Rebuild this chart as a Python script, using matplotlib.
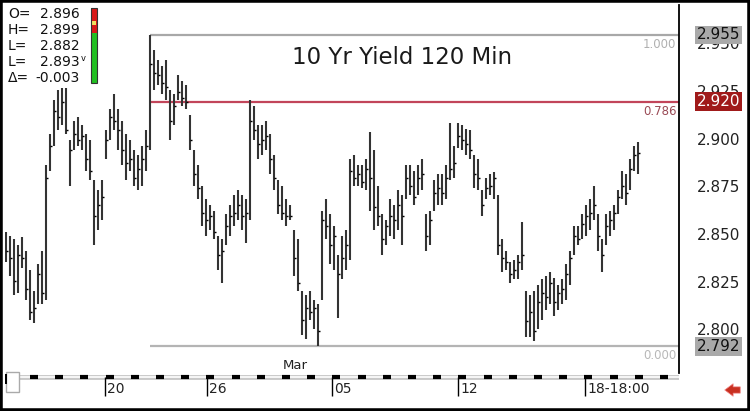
import matplotlib.pyplot as plt
from matplotlib.patches import Rectangle
import numpy as np

# 120-minute bars, 10 year yield
highs = [
    2.852, 2.850, 2.848, 2.845, 2.849, 2.842, 2.832, 2.821, 2.835, 2.842,
    2.887, 2.903, 2.921, 2.926, 2.927, 2.927, 2.900, 2.910, 2.912, 2.908,
    2.903, 2.900, 2.879, 2.874, 2.879, 2.905, 2.916, 2.924, 2.916, 2.910,
    2.903, 2.900, 2.895, 2.892, 2.897, 2.905, 2.955, 2.947, 2.942, 2.939,
    2.942, 2.926, 2.924, 2.934, 2.931, 2.929, 2.913, 2.895, 2.887, 2.876,
    2.869, 2.866, 2.863, 2.850, 2.848, 2.861, 2.866, 2.871, 2.874, 2.871,
    2.869, 2.921, 2.918, 2.908, 2.908, 2.910, 2.903, 2.892, 2.879, 2.876,
    2.869, 2.866, 2.853, 2.848, 2.821, 2.819, 2.821, 2.816, 2.814, 2.863,
    2.869, 2.861, 2.855, 2.840, 2.850, 2.853, 2.890, 2.892, 2.887, 2.887,
    2.890, 2.904, 2.895, 2.876, 2.861, 2.858, 2.869, 2.866, 2.874, 2.871,
    2.887, 2.887, 2.884, 2.887, 2.890, 2.861, 2.863, 2.879, 2.882, 2.882,
    2.887, 2.909, 2.897, 2.909, 2.908, 2.906, 2.905, 2.892, 2.890, 2.874,
    2.880, 2.882, 2.883, 2.871, 2.848, 2.842, 2.836, 2.837, 2.840, 2.857,
    2.821, 2.819, 2.821, 2.824, 2.827, 2.829, 2.831, 2.828, 2.824, 2.827,
    2.835, 2.842, 2.855, 2.855, 2.861, 2.866, 2.869, 2.876, 2.861, 2.848,
    2.861, 2.863, 2.866, 2.874, 2.884, 2.882, 2.890, 2.897, 2.899,
]
lows = [
    2.836, 2.829, 2.819, 2.820, 2.833, 2.816, 2.806, 2.804, 2.814, 2.814,
    2.816, 2.884, 2.897, 2.905, 2.908, 2.903, 2.876, 2.895, 2.897, 2.895,
    2.884, 2.879, 2.845, 2.853, 2.858, 2.890, 2.900, 2.905, 2.895, 2.887,
    2.879, 2.884, 2.876, 2.874, 2.876, 2.884, 2.895, 2.926, 2.929, 2.924,
    2.921, 2.900, 2.908, 2.921, 2.918, 2.916, 2.895, 2.876, 2.869, 2.855,
    2.850, 2.853, 2.848, 2.832, 2.825, 2.845, 2.850, 2.855, 2.858, 2.853,
    2.846, 2.858, 2.900, 2.890, 2.892, 2.895, 2.882, 2.874, 2.861, 2.858,
    2.855, 2.858, 2.829, 2.821, 2.798, 2.796, 2.806, 2.801, 2.792, 2.816,
    2.848, 2.835, 2.832, 2.807, 2.827, 2.832, 2.837, 2.876, 2.876, 2.875,
    2.874, 2.863, 2.853, 2.855, 2.840, 2.845, 2.850, 2.848, 2.853, 2.845,
    2.869, 2.871, 2.866, 2.871, 2.874, 2.842, 2.845, 2.863, 2.866, 2.866,
    2.869, 2.879, 2.880, 2.896, 2.895, 2.892, 2.890, 2.875, 2.874, 2.860,
    2.869, 2.871, 2.869, 2.840, 2.831, 2.832, 2.825, 2.827, 2.827, 2.832,
    2.797, 2.797, 2.795, 2.801, 2.806, 2.811, 2.814, 2.808, 2.811, 2.814,
    2.816, 2.824, 2.840, 2.845, 2.848, 2.850, 2.853, 2.858, 2.842, 2.831,
    2.845, 2.850, 2.853, 2.861, 2.869, 2.866, 2.874, 2.884, 2.882,
]
closes = [
    2.842, 2.838, 2.826, 2.840, 2.838, 2.822, 2.810, 2.812, 2.830, 2.820,
    2.880, 2.897, 2.915, 2.912, 2.920, 2.905, 2.895, 2.903, 2.900, 2.902,
    2.890, 2.884, 2.860, 2.866, 2.870, 2.900, 2.912, 2.910, 2.905, 2.895,
    2.888, 2.890, 2.880, 2.885, 2.890, 2.897, 2.940, 2.935, 2.934, 2.930,
    2.928, 2.910, 2.918, 2.925, 2.922, 2.920, 2.900, 2.882, 2.875, 2.862,
    2.858, 2.860, 2.852, 2.840, 2.842, 2.855, 2.860, 2.862, 2.866, 2.860,
    2.862, 2.910, 2.905, 2.898, 2.900, 2.902, 2.890, 2.880, 2.866, 2.862,
    2.860, 2.860, 2.838, 2.825, 2.806, 2.812, 2.810, 2.812, 2.800, 2.858,
    2.855, 2.845, 2.850, 2.830, 2.838, 2.845, 2.884, 2.880, 2.882, 2.878,
    2.885, 2.880, 2.865, 2.860, 2.848, 2.855, 2.860, 2.858, 2.866, 2.860,
    2.880, 2.876, 2.870, 2.880, 2.882, 2.850, 2.858, 2.872, 2.875, 2.872,
    2.880, 2.885, 2.888, 2.902, 2.900, 2.898, 2.895, 2.882, 2.880, 2.866,
    2.875, 2.876, 2.880, 2.845, 2.838, 2.836, 2.830, 2.832, 2.836, 2.840,
    2.805, 2.810, 2.800, 2.815, 2.820, 2.818, 2.825, 2.815, 2.820, 2.822,
    2.830, 2.838, 2.850, 2.848, 2.856, 2.860, 2.862, 2.866, 2.850, 2.840,
    2.855, 2.858, 2.862, 2.870, 2.876, 2.872, 2.885, 2.892, 2.893,
]

price_ticks = [2.800, 2.825, 2.850, 2.875, 2.900, 2.925, 2.950]
date_pos = [24.75, 50.25, 81.5, 113.0, 144.75]
date_labels = ["20", "26", "05", "12", "18-18:00"]
month_pos = 72.25
month_label = "Mar"

fib_start = 36
fib_levels = [2.955, 2.920, 2.792]
fib_names = ["1.000", "0.786", "0.000"]
fib_colors = ["#a8a8a8", "#c2455a", "#b4b4b4"]
fib_text_colors = ["#b0b0b0", "#9a4a55", "#b8b8b8"]

info_labels = ["O=", "H=", "L=", "L=", "\u0394="]
info_values = ["2.896", "2.899", "2.882", "2.893", "-0.003"]

W, H = 750, 411
fig = plt.figure(figsize=(7.5, 4.11), dpi=100)
fig.patch.set_facecolor("white")

# main price panel
ax = fig.add_axes([5 / W, (H - 373) / H, 674 / W, 368 / H])
ax.set_xlim(-0.25, 168.25)
ax.set_ylim(2.7780, 2.9707)
for side in ["left", "top", "bottom"]:
    ax.spines[side].set_visible(False)
ax.spines["right"].set_linewidth(1.3)
ax.set_xticks([])
ax.set_yticks([])

x = np.arange(len(highs))
ax.vlines(x, lows, highs, color="#333333", lw=1.5, zorder=3)
ax.hlines(closes, x, x + 0.4, color="black", lw=1.0, zorder=3)

# fibonacci retracement lines
for lvl, name, c, tc in zip(fib_levels, fib_names, fib_colors, fib_text_colors):
    ax.hlines(lvl, fib_start, 168.25, color=c, lw=1.6, zorder=2)
    ax.annotate(name, xy=(0.996, lvl), xycoords=("axes fraction", "data"),
                xytext=(0, -2), textcoords="offset points", ha="right", va="top",
                fontsize=8.5, color=tc)

ax.text(month_pos, 2.7817, month_label, ha="center", va="center", fontsize=9.5, color="#222222")

# right price scale
for p in price_ticks:
    ax.text(1.0905, p, f"{p:.3f}", transform=ax.get_yaxis_transform(), ha="right",
            va="center", fontsize=11, color="#222222", clip_on=False, zorder=4)

box_styles = [("#a9a9a9", "#111111"), ("#a01a1a", "white"), ("#a9a9a9", "#111111")]
for lvl, (fc, tc) in zip(fib_levels, box_styles):
    ax.text(1.0905, lvl, f"{lvl:.3f}", transform=ax.get_yaxis_transform(), ha="right",
            va="center", fontsize=11, color=tc, clip_on=False, zorder=6,
            bbox=dict(boxstyle="square,pad=0.12", fc=fc, ec="none"))

# date strip under the chart
sx = fig.add_axes([5 / W, (H - 405) / H, 674 / W, 32 / H])
sx.set_xlim(-0.25, 168.25)
sx.set_ylim(0, 1)
sx.axis("off")
sx.hlines(0.875, -0.25, 168.25, color="#c8c8c8", lw=3.5)
sx.hlines(0.875, -0.25, 168.25, color="white", lw=1.2)
dash_x = np.arange(6, 166, 6.3)
sx.hlines(np.full(len(dash_x), 0.875), dash_x, dash_x + 2, color="black", lw=3)
sx.vlines(date_pos, 0.28, 0.86, color="black", lw=1.0)
for d, lab in zip(date_pos, date_labels):
    sx.text(d + 0.5, 0.5, lab, ha="left", va="center", fontsize=10, color="#222222")

fig.patches.append(Rectangle((6 / W, (H - 392) / H), 13 / W, 20 / H, transform=fig.transFigure,
                             fc="white", ec="#aaaaaa", lw=1))
fig.patches.append(Rectangle((5 / W, (H - 384) / H), 2 / W, 10 / H, transform=fig.transFigure,
                             fc="black", ec="none"))

# title
fig.text(402 / W, 1 - 57 / H, "10 Yr Yield 120 Min", ha="center", va="center",
         fontsize=16.5, color="#1a1a1a")

# info box top left
for k, (lab, val) in enumerate(zip(info_labels, info_values)):
    yy = 1 - (14 + 16 * k) / H
    fig.text(8 / W, yy, lab, ha="left", va="center", fontsize=10, color="#111111")
    fig.text(80 / W, yy, val, ha="right", va="center", fontsize=10, color="#111111")
fig.text(81 / W, 1 - 58 / H, "v", ha="left", va="center", fontsize=6, color="#111111")

fig.patches.append(Rectangle((91 / W, (H - 33) / H), 6 / W, 25 / H, transform=fig.transFigure,
                             fc="#d81818", ec="none"))
fig.patches.append(Rectangle((91 / W, (H - 83) / H), 6 / W, 50 / H, transform=fig.transFigure,
                             fc="#22c022", ec="none"))
fig.patches.append(Rectangle((92 / W, (H - 25) / H), 4 / W, 4 / H, transform=fig.transFigure,
                             fc="#f0e060", ec="none"))
fig.patches.append(Rectangle((91 / W, (H - 83) / H), 6 / W, 75 / H, transform=fig.transFigure,
                             fill=False, ec="#333333", lw=0.8))

# scroll arrow bottom right
ax.annotate("", xy=(722, 21), xytext=(743, 21), xycoords="figure pixels",
            textcoords="figure pixels",
            arrowprops=dict(arrowstyle="simple,head_length=0.6,head_width=0.9,tail_width=0.45",
                            color="#c83020", ec="#f08080", lw=0.5))

# outer frame
fig.patches.append(Rectangle((0, 0), 1, 1, transform=fig.transFigure, fill=False,
                             ec="black", lw=4))

fig.savefig("out.png", dpi=100)
